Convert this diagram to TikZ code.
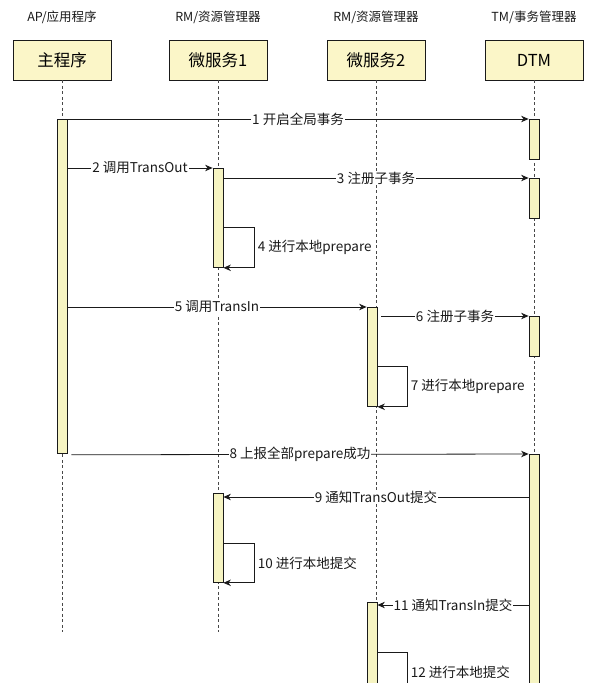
\documentclass[tikz,border=0pt]{standalone}
\usepackage{fontspec}
\setmainfont{Noto Sans CJK SC}
\usetikzlibrary{arrows.meta,calc}
\definecolor{boxfill}{HTML}{FBF6C8}
\definecolor{actfill}{HTML}{F6F4C2}
\definecolor{ink}{HTML}{1A1A1A}
\begin{document}
\begin{tikzpicture}[x=1pt,y=-1pt,
  hdr/.style={draw=ink, line width=0.8pt, fill=boxfill, minimum width=98pt, minimum height=40pt, inner sep=0pt, font=\fontsize{16.5}{18}\selectfont},
  role/.style={font=\fontsize{12.5}{14}\selectfont, text=ink},
  act/.style={draw=ink, line width=0.8pt, fill=actfill, minimum width=10pt, inner sep=0pt, anchor=north},
  lifeline/.style={dash pattern=on 3pt off 2.5pt, draw=ink!80, line width=0.6pt},
  msg/.style={draw=ink, line width=0.8pt, -{Stealth[length=7.5pt,width=6.5pt]}},
  lbl/.style={fill=white, inner sep=1pt, text=ink, font=\fontsize{13.5}{15}\selectfont},
  looplbl/.style={right, xshift=2pt, inner sep=1pt, text=ink, font=\fontsize{13.5}{15}\selectfont}]
\useasboundingbox (0,0) rectangle (595,683);
\clip (0,0) rectangle (595,683);
\fill[white] (0,0) rectangle (595,683);

% roles
\node[role] (r1) at (62,17) {AP/应用程序};
\node[role] (r2) at (218,17) {RM/资源管理器};
\node[role] (r3) at (376,17) {RM/资源管理器};
\node[role] (r4) at (534,17) {TM/事务管理器};

% participants
\node[hdr] (h1) at (62,60) {主程序};
\node[hdr] (h2) at (218,60) {微服务1};
\node[hdr] (h3) at (376,60) {微服务2};
\node[hdr] (h4) at (534,60) {DTM};

% lifelines
\coordinate (e1) at (62,632);
\coordinate (e2) at (218,632);
\coordinate (e3) at (376.5,700);
\coordinate (e4) at (534,700);
\draw[lifeline] (h1.south) -- (e1);
\draw[lifeline] (h2.south) -- (e2);
\draw[lifeline] (h3.south -| e3) -- (e3);
\draw[lifeline] (h4.south) -- (e4);

% activations
\node[act, minimum height=334pt] (a1) at (62,119) {};
\node[act, minimum height=40pt] (d1) at (534,119) {};
\node[act, minimum height=99pt] (b1) at (218,168) {};
\node[act, minimum height=40pt] (d2) at (534,178) {};
\node[act, minimum height=99pt] (c1) at (372,307) {};
\node[act, minimum height=40pt] (d3) at (534,316) {};
\node[act, minimum height=260pt] (d4) at (534,454) {};
\node[act, minimum height=89pt] (b2) at (218,493) {};
\node[act, minimum height=100pt] (c2) at (372,602) {};

% messages
\draw[msg] (a1.north east) -- node[lbl] {1 开启全局事务} (d1.north west);
\draw[msg] (a1.east |- b1.north) -- node[lbl] {2 调用TransOut} (b1.north west);
\draw[msg] (b1.east |- d2.north) -- node[lbl] {3 注册子事务} (d2.north west);
\draw[msg] ($(b1.north east)+(0,59)$) -- ++(31,0) |- node[looplbl, pos=0.25] {4 进行本地prepare} (b1.south east);
\draw[msg] (a1.east |- c1.north) -- node[lbl] {5 调用TransIn} (c1.north west);
\draw[msg] ($(c1.east |- d3.north)+(4,0)$) -- node[lbl] {6 注册子事务} (d3.north west);
\draw[msg] ($(c1.north east)+(0,59)$) -- ++(30,0) |- node[looplbl, pos=0.25] {7 进行本地prepare} (c1.south east);
\draw[msg] ($(a1.south east)+(4,1)$) -- node[lbl] {8 上报全部prepare成功} (d4.north west);
\coordinate (m9) at ($(b2.north east)+(0,4)$);
\draw[msg] (d4.west |- m9) -- node[lbl] {9 通知TransOut提交} (m9);
\draw[msg] ($(b2.north east)+(0,50)$) -- ++(31,0) |- node[looplbl, pos=0.25] {10 进行本地提交} (b2.south east);
\coordinate (m11) at ($(c2.north east)+(0,3)$);
\draw[msg] (d4.west |- m11) -- node[lbl] {11 通知TransIn提交} (m11);
\coordinate (l12) at ($(c2.north east)+(30,110)$);
\draw[draw=ink, line width=0.8pt] ($(c2.north east)+(0,50)$) -- ++(30,0) -- node[looplbl, pos=0.333] {12 进行本地提交} (l12);
\end{tikzpicture}
\end{document}
